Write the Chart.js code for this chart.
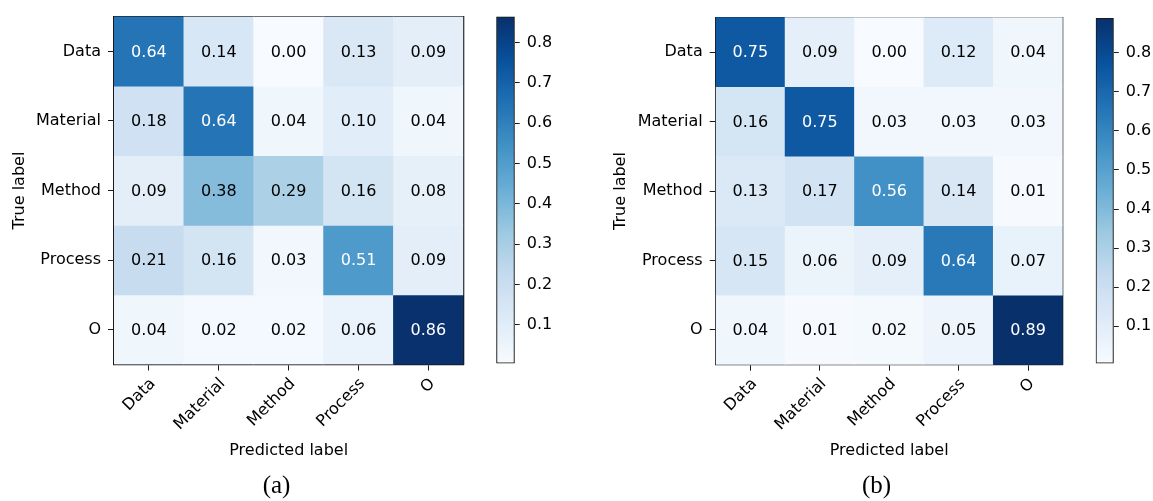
<!DOCTYPE html>
<html lang="en">
<head>
<meta charset="UTF-8">
<title>Confusion matrices</title>
<script src="https://cdn.jsdelivr.net/npm/chart.js"></script>
<style>
  body { margin: 0; background: #fff; }
  .wrap { position: relative; width: 1153px; height: 501px; overflow: hidden; }
  canvas { position: absolute; top: 0; }
</style>
</head>
<body>
<div class="wrap">
  <canvas id="cmA" width="553" height="501" style="left:0px"></canvas>
  <canvas id="cbA" width="100" height="380" style="left:480px"></canvas>
  <canvas id="cmB" width="553" height="501" style="left:600px"></canvas>
  <canvas id="cbB" width="73" height="380" style="left:1080px"></canvas>
</div>

<script>
  // labels
  const predictedLabels = ['Data', 'Material', 'Method', 'Process', 'O'];
  const trueLabels = ['Data', 'Material', 'Method', 'Process', 'O'];

  // normalised confusion matrices, rows = true label
  const cmA = [
    [0.64, 0.14, 0.00, 0.13, 0.09],
    [0.18, 0.64, 0.04, 0.10, 0.04],
    [0.09, 0.38, 0.29, 0.16, 0.08],
    [0.21, 0.16, 0.03, 0.51, 0.09],
    [0.04, 0.02, 0.02, 0.06, 0.86]
  ];
  const cmB = [
    [0.75, 0.09, 0.00, 0.12, 0.04],
    [0.16, 0.75, 0.03, 0.03, 0.03],
    [0.13, 0.17, 0.56, 0.14, 0.01],
    [0.15, 0.06, 0.09, 0.64, 0.07],
    [0.04, 0.01, 0.02, 0.05, 0.89]
  ];

  // colour scale range of each colorbar
  const rangeA = [0.004, 0.864];
  const rangeB = [0.005, 0.889];
  const colorbarTicks = [0.1, 0.2, 0.3, 0.4, 0.5, 0.6, 0.7, 0.8];

  // matplotlib "Blues"
  const bluesStops = [
    [247, 251, 255], [222, 235, 247], [198, 219, 239], [158, 202, 225], [107, 174, 214],
    [66, 146, 198], [33, 113, 181], [8, 81, 156], [8, 48, 107]
  ];

  const ink = '#1a1a1a';
  Chart.defaults.font.family = "'DejaVu Sans', sans-serif";
  Chart.defaults.font.size = 16;
  Chart.defaults.color = '#000';

  function blues(t) {
    t = Math.min(1, Math.max(0, t)) * (bluesStops.length - 1);
    const i = Math.min(Math.floor(t), bluesStops.length - 2);
    const f = t - i;
    const a = bluesStops[i], b = bluesStops[i + 1];
    const c = a.map((v, k) => Math.round(v + (b[k] - v) * f));
    return `rgb(${c[0]},${c[1]},${c[2]})`;
  }

  function barGradient(chart) {
    const area = chart.chartArea;
    if (!area) return bluesStops[0];
    const g = chart.ctx.createLinearGradient(0, area.bottom, 0, area.top);
    bluesStops.forEach((c, i) => g.addColorStop(i / (bluesStops.length - 1), `rgb(${c})`));
    return g;
  }

  // writes the value in the middle of every cell
  function cellText(matrix) {
    const thresh = Math.max(...matrix.flat()) / 2;
    return {
      id: 'cellText',
      afterDatasetsDraw(chart) {
        const ctx = chart.ctx;
        ctx.save();
        ctx.font = "16px 'DejaVu Sans'";
        ctx.textAlign = 'center';
        ctx.textBaseline = 'middle';
        matrix.forEach((row, r) => {
          const bars = chart.getDatasetMeta(r).data;
          row.forEach((v, c) => {
            const p = bars[c].getCenterPoint();
            ctx.fillStyle = v > thresh ? '#fff' : '#000';
            ctx.fillText(v.toFixed(2), p.x, p.y + 1);
          });
        });
        ctx.restore();
      }
    };
  }

  function heatmap(id, matrix, range, caption, g) {
    const frame = { color: ink, width: 1.3 };
    return new Chart(id, {
      type: 'bar',
      data: {
        labels: predictedLabels,
        datasets: matrix.map((row, r) => ({
          data: row.map(() => [r - 0.5, r + 0.5]),
          backgroundColor: row.map(v => blues((v - range[0]) / (range[1] - range[0]))),
          borderWidth: 0,
          barPercentage: 1,
          categoryPercentage: 1,
          grouped: false
        }))
      },
      options: {
        responsive: false,
        animation: false,
        events: [],
        layout: { padding: 0 },
        plugins: {
          legend: { display: false },
          tooltip: { enabled: false },
          title: {
            display: true,
            text: caption,
            position: 'bottom',
            color: '#000',
            font: { family: "'Liberation Serif', serif", size: 25, weight: 'normal', lineHeight: 1 },
            padding: { top: 0, bottom: 2 }
          }
        },
        scales: {
          x: {
            offset: true,
            grid: { offset: false, drawOnChartArea: false, tickLength: 6, color: ink, lineWidth: 1 },
            border: frame,
            ticks: { minRotation: 45, maxRotation: 45, autoSkip: false, padding: 4, labelOffset: 4 },
            title: { display: true, text: 'Predicted label', padding: { top: 0, bottom: 14 } },
            afterFit: s => { s.height = g.bottom; }
          },
          y: {
            type: 'linear',
            min: -0.5,
            max: 4.5,
            reverse: true,
            afterBuildTicks: s => { s.ticks = trueLabels.map((_, i) => ({ value: i })); },
            grid: { drawOnChartArea: false, tickLength: 6, color: ink, lineWidth: 1 },
            border: frame,
            ticks: { padding: 7, callback: v => trueLabels[v] },
            title: { display: true, text: 'True label', padding: { top: g.titleY, bottom: 0 } },
            afterFit: s => { s.width = g.left; }
          },
          xTop: {
            type: 'linear',
            position: 'top',
            grid: { display: false },
            ticks: { display: false },
            border: frame,
            afterFit: s => { s.height = g.top; }
          },
          yRight: {
            type: 'linear',
            position: 'right',
            grid: { display: false },
            ticks: { display: false },
            border: frame,
            afterFit: s => { s.width = g.right; }
          }
        }
      },
      plugins: [cellText(matrix)]
    });
  }

  function colorbar(id, range, g) {
    return new Chart(id, {
      type: 'bar',
      data: {
        labels: [''],
        datasets: [{
          data: [range],
          backgroundColor: ctx => barGradient(ctx.chart),
          borderColor: ink,
          borderWidth: 1.3,
          borderSkipped: false,
          barPercentage: 1,
          categoryPercentage: 1
        }]
      },
      options: {
        responsive: false,
        animation: false,
        events: [],
        layout: { padding: { left: g.left, top: g.top, bottom: g.bottom, right: 0 } },
        plugins: { legend: { display: false }, tooltip: { enabled: false } },
        scales: {
          x: { display: false },
          y: {
            position: 'right',
            min: range[0],
            max: range[1],
            afterBuildTicks: s => { s.ticks = colorbarTicks.map(v => ({ value: v })); },
            grid: { drawOnChartArea: false, tickLength: 5, color: ink, lineWidth: 1 },
            border: { display: false },
            ticks: { padding: 7, callback: v => v.toFixed(1) },
            afterFit: s => { s.width = g.right; }
          }
        }
      }
    });
  }

  heatmap('cmA', cmA, rangeA, '(a)', { left: 114, right: 89.7, top: 15.5, bottom: 109.5, titleY: 10 });
  colorbar('cbA', rangeA, { left: 16.3, top: 15.5, bottom: 15.3, right: 65.3 });
  heatmap('cmB', cmB, rangeB, '(b)', { left: 115.7, right: 90.3, top: 17.3, bottom: 109.3, titleY: 11.4 });
  colorbar('cbB', rangeB, { left: 15.7, top: 18, bottom: 14.7, right: 39.3 });
</script>
</body>
</html>
